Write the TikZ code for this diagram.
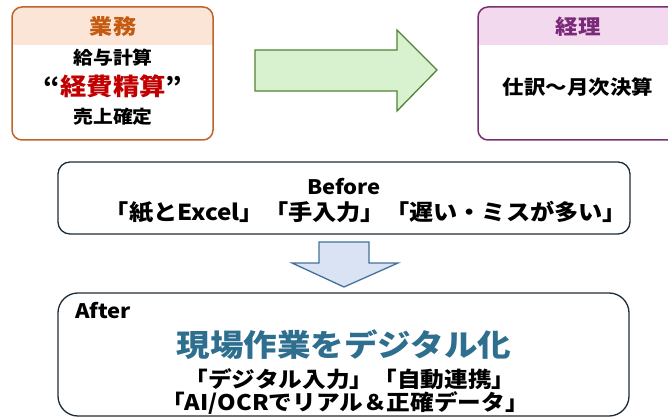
\documentclass[tikz,border=0pt]{standalone}
\usepackage{fontspec}
\setmainfont{Noto Sans CJK JP}[FakeStretch=1.1]
\definecolor{gyoBorder}{HTML}{C0622C}
\definecolor{gyoFill}{HTML}{FBE5D6}
\definecolor{gyoText}{HTML}{C55A11}
\definecolor{keiBorder}{HTML}{7A2F72}
\definecolor{keiFill}{HTML}{F2D9EE}
\definecolor{keiText}{HTML}{7A2A78}
\definecolor{redText}{HTML}{C00000}
\definecolor{grnFill}{HTML}{D8F2D0}
\definecolor{grnLine}{HTML}{548235}
\definecolor{bluFill}{HTML}{DAE3F3}
\definecolor{bluLine}{HTML}{41719C}
\definecolor{navy}{HTML}{1E2B38}
\definecolor{titleBlue}{HTML}{2E6E8E}
\tikzset{
  txt/.style={inner sep=0pt, font=\bfseries},
  panel/.style={draw=navy, line width=1.3pt},
}
\begin{document}
\begin{tikzpicture}[x=1pt,y=-1pt]
\useasboundingbox (0,0) rectangle (668,419);
\clip (0,0) rectangle (668,419);
% Gyomu box
\begin{scope}
\clip[rounded corners=10pt] (12,7) rectangle (213,140);
\fill[gyoFill] (12,7) rectangle (213,45);
\end{scope}
\draw[gyoBorder, line width=1.5pt, rounded corners=10pt] (12,7) rectangle (213,140);
\node[txt, text=gyoText, font=\bfseries\fontsize{21}{23}\selectfont] (gyomu) at (113,27) {業務};
\node[txt, font=\bfseries\fontsize{18}{20}\selectfont] (kyuyo) at (113,58) {給与計算};
\node[txt, font=\bfseries\fontsize{24}{26}\selectfont] (keihi) at (113,86) {“\textcolor{redText}{経費精算}”};
\node[txt, font=\bfseries\fontsize{18}{20}\selectfont] (uriage) at (113,117) {売上確定};
% green arrow
\draw[fill=grnFill, draw=grnLine, line width=1.3pt, line join=miter]
  (255,50) -- (397,50) -- (397,30) -- (437,70) -- (397,111) -- (397,91) -- (255,91) -- cycle;
% Keiri box
\begin{scope}
\clip[rounded corners=10pt] (478,7) rectangle (690,140);
\fill[keiFill] (478,7) rectangle (690,45);
\end{scope}
\draw[keiBorder, line width=1.5pt, rounded corners=10pt] (478,7) rectangle (690,140);
\node[txt, text=keiText, font=\bfseries\fontsize{20.5}{22}\selectfont] (keiri) at (578,27) {経理};
\node[txt, font=\bfseries\fontsize{19.5}{21}\selectfont] (shiwake) at (578,87) {仕訳〜月次決算};
% Before
\draw[panel, rounded corners=12pt] (58,162) rectangle (630,234);
\node[txt, font=\bfseries\fontsize{20}{22}\selectfont] (before) at (344,187) {Before};
\node[txt, font=\bfseries\fontsize{22}{24}\selectfont] (beforeItems) at (366,212) {「紙とExcel」「手入力」「遅い・ミスが多い」};
% down arrow
\draw[fill=bluFill, draw=bluLine, line width=1.3pt, line join=miter]
  (319,242) -- (369,242) -- (369,263) -- (398,263) -- (344,287) -- (292,263) -- (319,263) -- cycle;
% After
\draw[panel, rounded corners=20pt] (58,293) rectangle (629,416);
\node[txt, anchor=west, font=\bfseries\fontsize{20}{22}\selectfont] (after) at (75,311) {After};
\node[txt, text=titleBlue, font=\bfseries\fontsize{30.5}{33}\selectfont] (title) at (344,345) {現場作業をデジタル化};
\node[txt, font=\bfseries\fontsize{21.5}{23}\selectfont] (afterA) at (350,379) {「デジタル入力」「自動連携」};
\node[txt, font=\bfseries\fontsize{21.5}{23}\selectfont] (afterB) at (345,403) {「AI/OCRでリアル＆正確データ」};
\end{tikzpicture}
\end{document}
